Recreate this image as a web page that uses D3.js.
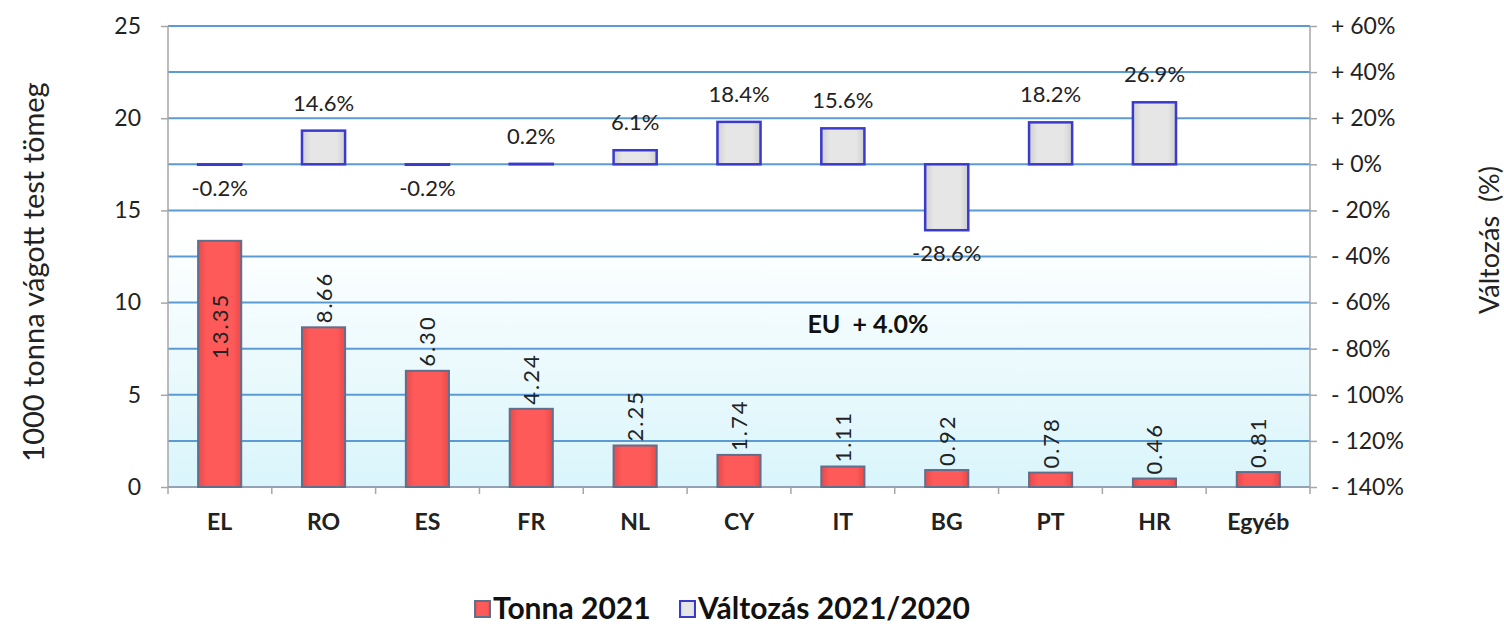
<!DOCTYPE html>
<meta charset="utf-8">
<style>
    body {
        margin: 0;
        background: white;
        font-family: Lato, "Open Sans", sans-serif;
    }

    .tick text {
        fill: #222;
        font-family: Lato, "Open Sans", sans-serif;
        font-size: 23px;
    }

    .grid line {
        stroke: #5b9bd5;
        stroke-width: 2px;
    }
</style>

<body>
    <svg id="chart" width="1504" height="627"></svg>

    <script src="https://cdnjs.cloudflare.com/ajax/libs/d3/7.8.5/d3.min.js"></script>

    <script>
        var categories = ["EL", "RO", "ES", "FR", "NL", "CY", "IT", "BG", "PT", "HR", "Egyéb"];
        var tonnes = [13.35, 8.66, 6.30, 4.24, 2.25, 1.74, 1.11, 0.92, 0.78, 0.46, 0.81];
        var change = [-0.2, 14.6, -0.2, 0.2, 6.1, 18.4, 15.6, -28.6, 18.2, 26.9, null];
        var leftTicks = [0, 5, 10, 15, 20, 25];
        var rightTicks = [60, 40, 20, 0, -20, -40, -60, -80, -100, -120, -140];
        var gridValues = [0, 2.5, 5, 7.5, 10, 12.5, 15, 17.5, 20, 22.5, 25];

        var renderChart = function () {
            var svg = d3.select("#chart"),
                plotL = 168, plotR = 1310, plotT = 26, plotB = 487;

            var x = d3.scaleBand()
                .domain(categories)
                .range([plotL, plotR])
                .paddingInner(0.585)
                .paddingOuter(0.29);
            var xEdge = d3.scaleLinear()
                .domain([0, categories.length])
                .range([plotL, plotR]);
            var y = d3.scaleLinear().domain([0, 25]).range([plotB, plotT]);
            var y2 = d3.scaleLinear().domain([-140, 60]).range([plotB, plotT]);

            var defs = svg.append("defs");
            var bg = defs.append("linearGradient").attr("id", "bg")
                .attr("x1", 0).attr("y1", 0).attr("x2", 0).attr("y2", 1);
            bg.append("stop").attr("offset", "0.45").attr("stop-color", "#ffffff");
            bg.append("stop").attr("offset", "1").attr("stop-color", "#d9f5fb");

            var redG = defs.append("linearGradient").attr("id", "redG")
                .attr("x1", 0).attr("y1", 0).attr("x2", 1).attr("y2", 0);
            redG.append("stop").attr("offset", "0").attr("stop-color", "#e84a4a");
            redG.append("stop").attr("offset", "0.2").attr("stop-color", "#ff5a5a");
            redG.append("stop").attr("offset", "0.8").attr("stop-color", "#ff5a5a");
            redG.append("stop").attr("offset", "1").attr("stop-color", "#e84a4a");

            var greyG = defs.append("linearGradient").attr("id", "greyG")
                .attr("x1", 0).attr("y1", 0).attr("x2", 1).attr("y2", 0);
            greyG.append("stop").attr("offset", "0").attr("stop-color", "#cfcfcf");
            greyG.append("stop").attr("offset", "0.2").attr("stop-color", "#e6e6e6");
            greyG.append("stop").attr("offset", "0.8").attr("stop-color", "#e6e6e6");
            greyG.append("stop").attr("offset", "1").attr("stop-color", "#cfcfcf");

            // plot background
            svg.append("rect")
                .attr("x", plotL).attr("y", plotT)
                .attr("width", plotR - plotL).attr("height", plotB - plotT)
                .attr("fill", "url(#bg)");

            // grid
            svg.append("g").attr("class", "grid")
                .selectAll("line").data(gridValues).enter().append("line")
                .attr("x1", plotL).attr("x2", plotR)
                .attr("y1", function (d) { return y(d); })
                .attr("y2", function (d) { return y(d); });

            // left axis
            var gl = svg.append("g")
                .attr("transform", "translate(" + plotL + ",0)")
                .call(d3.axisLeft(y).tickValues(leftTicks).tickSize(7).tickPadding(20));
            gl.selectAll("path, line").attr("stroke", "#a6a6a6").attr("stroke-width", 1.5);
            gl.select(".domain").attr("d", "M0," + plotT + "V" + plotB);

            // right axis
            var gr = svg.append("g")
                .attr("transform", "translate(" + plotR + ",0)")
                .call(d3.axisRight(y2).tickValues(rightTicks).tickSize(7).tickPadding(14)
                    .tickFormat(function (d) { return (d < 0 ? "- " : "+ ") + Math.abs(d) + "%"; }));
            gr.selectAll("path, line").attr("stroke", "#a6a6a6").attr("stroke-width", 1.5);
            gr.select(".domain").attr("d", "M0," + plotT + "V" + plotB);
            gr.selectAll(".tick text").attr("xml:space", "preserve");

            // bottom axis
            svg.append("line")
                .attr("x1", plotL).attr("x2", plotR)
                .attr("y1", plotB).attr("y2", plotB)
                .attr("stroke", "#a6a6a6").attr("stroke-width", 1.5);
            svg.append("g").selectAll("line").data(d3.range(categories.length + 1)).enter().append("line")
                .attr("x1", function (d) { return xEdge(d); })
                .attr("x2", function (d) { return xEdge(d); })
                .attr("y1", plotB).attr("y2", plotB + 7)
                .attr("stroke", "#a6a6a6").attr("stroke-width", 1.5);
            svg.append("g").selectAll("text").data(categories).enter().append("text")
                .attr("x", function (d) { return x(d) + x.bandwidth() / 2; })
                .attr("y", 530)
                .attr("text-anchor", "middle")
                .style("font-size", "23px").style("font-weight", "700").style("fill", "#222")
                .text(function (d) { return d; });

            // tonnage bars
            svg.append("g").selectAll("rect").data(tonnes).enter().append("rect")
                .attr("x", function (d, i) { return x(categories[i]); })
                .attr("y", function (d) { return y(d); })
                .attr("width", x.bandwidth())
                .attr("height", function (d) { return plotB - y(d); })
                .attr("fill", "url(#redG)")
                .attr("stroke", "#5f6f8c").attr("stroke-width", 2);

            svg.append("g").selectAll("text").data(tonnes).enter().append("text")
                .attr("transform", function (d, i) {
                    var cx = x(categories[i]) + x.bandwidth() / 2;
                    var cy = d > 12 ? y(d) + 52 : y(d) - 4;
                    return "translate(" + (cx + 8) + "," + cy + ") rotate(-90)";
                })
                .attr("text-anchor", function (d) { return d > 12 ? "end" : "start"; })
                .style("font-size", "22px").style("fill", "#222").style("letter-spacing", "2px")
                .text(function (d) { return d.toFixed(2); });

            // change bars
            var changeData = change.map(function (d, i) { return { c: categories[i], v: d }; })
                .filter(function (d) { return d.v !== null; });

            svg.append("g").selectAll("rect").data(changeData).enter().append("rect")
                .attr("x", function (d) { return x(d.c); })
                .attr("y", function (d) { return y2(Math.max(0, d.v)); })
                .attr("width", x.bandwidth())
                .attr("height", function (d) { return Math.abs(y2(d.v) - y2(0)); })
                .attr("fill", "url(#greyG)")
                .attr("stroke", "#3a3acc").attr("stroke-width", 2.5);

            svg.append("g").selectAll("text").data(changeData).enter().append("text")
                .attr("x", function (d) { return x(d.c) + x.bandwidth() / 2; })
                .attr("y", function (d) { return d.v >= 0 ? y2(d.v) - 20 : y2(d.v) + 31; })
                .attr("text-anchor", "middle")
                .style("font-size", "22px").style("fill", "#222")
                .text(function (d) { return d.v.toFixed(1) + "%"; });

            // EU total
            svg.append("text")
                .attr("x", 868).attr("y", 333)
                .attr("text-anchor", "middle")
                .style("font-size", "25px").style("font-weight", "700").style("fill", "#111")
                .attr("xml:space", "preserve")
                .text("EU  + 4.0%");

            // axis titles
            svg.append("text")
                .attr("transform", "translate(44,272) rotate(-90)")
                .attr("text-anchor", "middle")
                .style("font-size", "29px").style("fill", "#222")
                .text("1000 tonna vágott test tömeg");
            svg.append("text")
                .attr("transform", "translate(1499,240) rotate(-90)")
                .attr("text-anchor", "middle")
                .style("font-size", "27px").style("fill", "#222")
                .attr("xml:space", "preserve")
                .text("Változás  (%)");

            // legend
            var legend = [
                { label: "Tonna 2021", fill: "url(#redG)", stroke: "#5f6f8c", x: 475 },
                { label: "Változás 2021/2020", fill: "url(#greyG)", stroke: "#3a3acc", x: 680 }
            ];
            var lg = svg.append("g").selectAll("g").data(legend).enter().append("g")
                .attr("transform", function (d) { return "translate(" + d.x + ",601)"; });
            lg.append("rect")
                .attr("width", 15).attr("height", 16)
                .attr("fill", function (d) { return d.fill; })
                .attr("stroke", function (d) { return d.stroke; }).attr("stroke-width", 2);
            lg.append("text")
                .attr("x", 18).attr("y", 18)
                .style("font-size", "30px").style("font-weight", "700").style("fill", "#111")
                .text(function (d) { return d.label; });
        };
        renderChart();
    </script>
</body>
